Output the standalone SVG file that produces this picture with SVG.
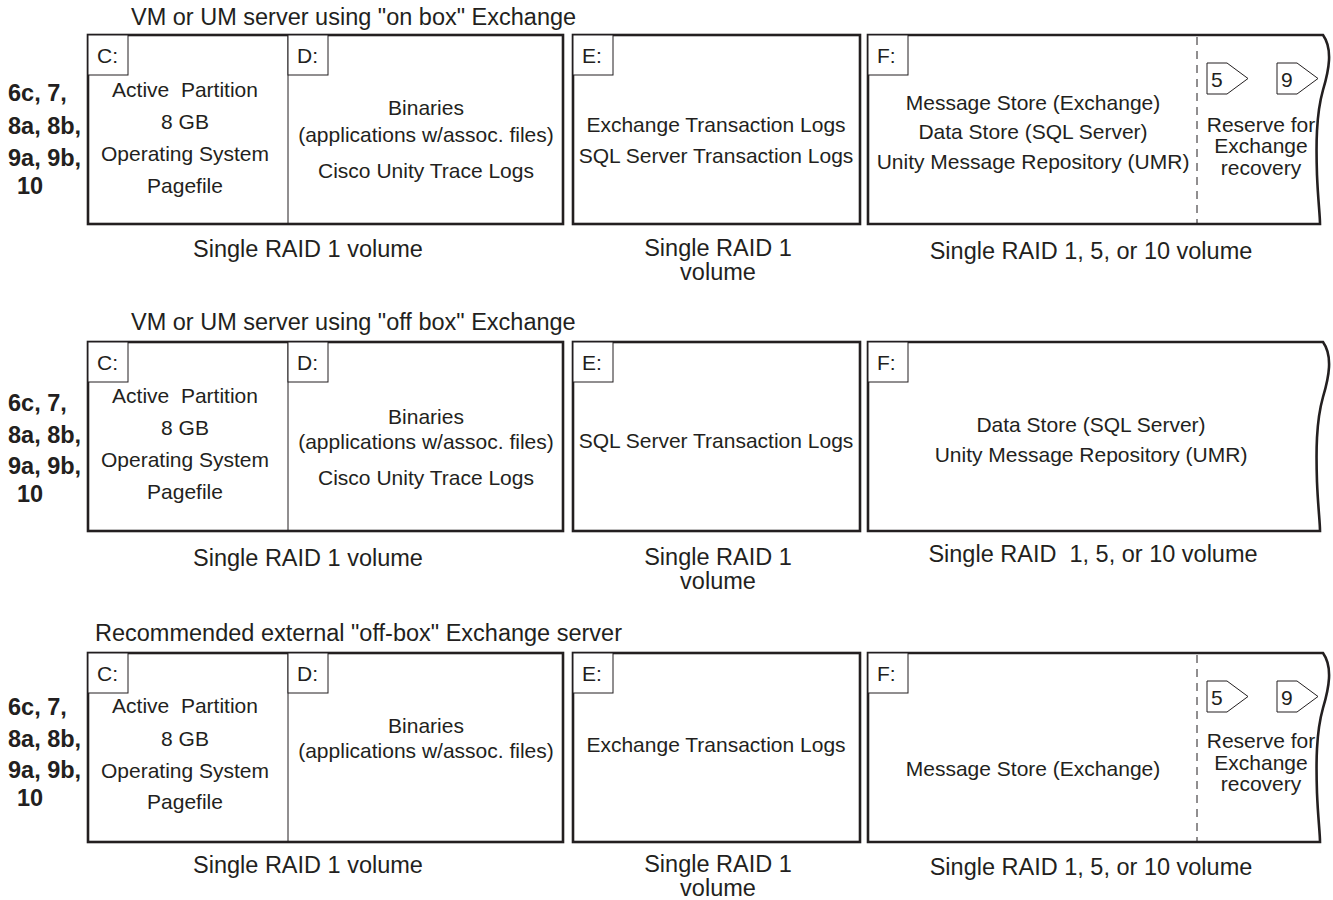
<svg xmlns="http://www.w3.org/2000/svg" width="1333" height="900" viewBox="0 0 1333 900">
<style>
.bg{fill:#fff}
.box{fill:#fff;stroke:#231f20;stroke-width:2.6}
.thin{fill:none;stroke:#231f20;stroke-width:1}
.lbl{fill:#fff;stroke:#231f20;stroke-width:1}
.dash{fill:none;stroke:#231f20;stroke-width:1;stroke-dasharray:8 6}
text{font-family:"Liberation Sans",Arial,sans-serif;fill:#231f20}
.t{font-size:21px;text-anchor:middle}
.tl{font-size:21px}
.big{font-size:23.5px}
.bigc{font-size:23.5px;text-anchor:middle}
.b{font-size:23.5px;font-weight:bold}
</style>
<rect class="bg" x="0" y="0" width="1333" height="900"/>
<defs>
<path id="fbox" d="M868,0 H1323 C1333,14 1329,35 1323,55 C1316,80 1316,110 1317,140 C1318,165 1320,180 1320,189 H868 Z"/>
<path id="tag" d="M0,0 H20 L41,15.5 L20,31 H0 Z"/>
</defs>

<!-- Row 1 -->
<g id="row1" transform="translate(0,35)">
<text class="big" x="131" y="-10">VM or UM server using "on box" Exchange</text>
<g id="r1-refs">
<text class="b" x="8" y="66">6c, 7,</text>
<text class="b" x="8" y="99">8a, 8b,</text>
<text class="b" x="8" y="131">9a, 9b,</text>
<text class="b" x="17" y="159">10</text>
</g>
<g id="r1-cd">
<rect class="box" x="88" y="0" width="475" height="189"/>
<line class="thin" x1="288" y1="0" x2="288" y2="189"/>
<rect class="lbl" x="88" y="0" width="40" height="40"/>
<text class="tl" x="97" y="28">C:</text>
<rect class="lbl" x="288" y="0" width="40" height="40"/>
<text class="tl" x="297" y="28">D:</text>
<text class="t" x="185" y="62" xml:space="preserve">Active  Partition</text>
<text class="t" x="185" y="94">8 GB</text>
<text class="t" x="185" y="126">Operating System</text>
<text class="t" x="185" y="158">Pagefile</text>
<text class="t" x="426" y="80">Binaries</text>
<text class="t" x="426" y="107">(applications w/assoc. files)</text>
<text class="t" x="426" y="143">Cisco Unity Trace Logs</text>
<text class="bigc" x="308" y="222">Single RAID 1 volume</text>
</g>
<g id="r1-e">
<rect class="box" x="573" y="0" width="287" height="189"/>
<rect class="lbl" x="573" y="0" width="40" height="40"/>
<text class="tl" x="582" y="28">E:</text>
<text class="t" x="716" y="97">Exchange Transaction Logs</text>
<text class="t" x="716" y="128">SQL Server Transaction Logs</text>
<text class="bigc" x="718" y="221">Single RAID 1</text>
<text class="bigc" x="718" y="245">volume</text>
</g>
<g id="r1-f">
<use href="#fbox" class="box"/>
<rect class="lbl" x="868" y="0" width="40" height="40"/>
<text class="tl" x="877" y="28">F:</text>
<line class="dash" x1="1197" y1="2" x2="1197" y2="188"/>
<text class="t" x="1033" y="75">Message Store (Exchange)</text>
<text class="t" x="1033" y="104">Data Store (SQL Server)</text>
<text class="t" x="1033" y="134">Unity Message Repository (UMR)</text>
<use href="#tag" class="lbl" x="1207" y="28"/>
<text class="tl" x="1211" y="52">5</text>
<use href="#tag" class="lbl" x="1277" y="28"/>
<text class="tl" x="1281" y="52">9</text>
<text class="t" x="1261" y="97">Reserve for<tspan x="1261" dy="21">Exchange</tspan><tspan x="1261" dy="22">recovery</tspan></text>
<text class="bigc" x="1091" y="224">Single RAID 1, 5, or 10 volume</text>
</g>
</g>

<!-- Row 2 -->
<g id="row2" transform="translate(0,342)">
<text class="big" x="131" y="-12">VM or UM server using "off box" Exchange</text>
<g id="r2-refs">
<text class="b" x="8" y="69">6c, 7,</text>
<text class="b" x="8" y="101">8a, 8b,</text>
<text class="b" x="8" y="132">9a, 9b,</text>
<text class="b" x="17" y="160">10</text>
</g>
<g id="r2-cd">
<rect class="box" x="88" y="0" width="475" height="189"/>
<line class="thin" x1="288" y1="0" x2="288" y2="189"/>
<rect class="lbl" x="88" y="0" width="40" height="40"/>
<text class="tl" x="97" y="28">C:</text>
<rect class="lbl" x="288" y="0" width="40" height="40"/>
<text class="tl" x="297" y="28">D:</text>
<text class="t" x="185" y="61" xml:space="preserve">Active  Partition</text>
<text class="t" x="185" y="93">8 GB</text>
<text class="t" x="185" y="125">Operating System</text>
<text class="t" x="185" y="157">Pagefile</text>
<text class="t" x="426" y="82">Binaries</text>
<text class="t" x="426" y="107">(applications w/assoc. files)</text>
<text class="t" x="426" y="143">Cisco Unity Trace Logs</text>
<text class="bigc" x="308" y="224">Single RAID 1 volume</text>
</g>
<g id="r2-e">
<rect class="box" x="573" y="0" width="287" height="189"/>
<rect class="lbl" x="573" y="0" width="40" height="40"/>
<text class="tl" x="582" y="28">E:</text>
<text class="t" x="716" y="106">SQL Server Transaction Logs</text>
<text class="bigc" x="718" y="223">Single RAID 1</text>
<text class="bigc" x="718" y="247">volume</text>
</g>
<g id="r2-f">
<use href="#fbox" class="box"/>
<rect class="lbl" x="868" y="0" width="40" height="40"/>
<text class="tl" x="877" y="28">F:</text>
<text class="t" x="1091" y="90">Data Store (SQL Server)</text>
<text class="t" x="1091" y="120">Unity Message Repository (UMR)</text>
<text class="bigc" x="1093" y="220" xml:space="preserve">Single RAID  1, 5, or 10 volume</text>
</g>
</g>

<!-- Row 3 -->
<g id="row3" transform="translate(0,653)">
<text class="big" x="95" y="-12">Recommended external "off-box" Exchange server</text>
<g id="r3-refs">
<text class="b" x="8" y="62">6c, 7,</text>
<text class="b" x="8" y="94">8a, 8b,</text>
<text class="b" x="8" y="125">9a, 9b,</text>
<text class="b" x="17" y="153">10</text>
</g>
<g id="r3-cd">
<rect class="box" x="88" y="0" width="475" height="189"/>
<line class="thin" x1="288" y1="0" x2="288" y2="189"/>
<rect class="lbl" x="88" y="0" width="40" height="40"/>
<text class="tl" x="97" y="28">C:</text>
<rect class="lbl" x="288" y="0" width="40" height="40"/>
<text class="tl" x="297" y="28">D:</text>
<text class="t" x="185" y="60" xml:space="preserve">Active  Partition</text>
<text class="t" x="185" y="93">8 GB</text>
<text class="t" x="185" y="125">Operating System</text>
<text class="t" x="185" y="156">Pagefile</text>
<text class="t" x="426" y="80">Binaries</text>
<text class="t" x="426" y="105">(applications w/assoc. files)</text>
<text class="bigc" x="308" y="220">Single RAID 1 volume</text>
</g>
<g id="r3-e">
<rect class="box" x="573" y="0" width="287" height="189"/>
<rect class="lbl" x="573" y="0" width="40" height="40"/>
<text class="tl" x="582" y="28">E:</text>
<text class="t" x="716" y="99">Exchange Transaction Logs</text>
<text class="bigc" x="718" y="219">Single RAID 1</text>
<text class="bigc" x="718" y="243">volume</text>
</g>
<g id="r3-f">
<use href="#fbox" class="box"/>
<rect class="lbl" x="868" y="0" width="40" height="40"/>
<text class="tl" x="877" y="28">F:</text>
<line class="dash" x1="1197" y1="2" x2="1197" y2="188"/>
<text class="t" x="1033" y="123">Message Store (Exchange)</text>
<use href="#tag" class="lbl" x="1207" y="28"/>
<text class="tl" x="1211" y="52">5</text>
<use href="#tag" class="lbl" x="1277" y="28"/>
<text class="tl" x="1281" y="52">9</text>
<text class="t" x="1261" y="95">Reserve for<tspan x="1261" dy="22">Exchange</tspan><tspan x="1261" dy="21">recovery</tspan></text>
<text class="bigc" x="1091" y="222">Single RAID 1, 5, or 10 volume</text>
</g>
</g>
</svg>
